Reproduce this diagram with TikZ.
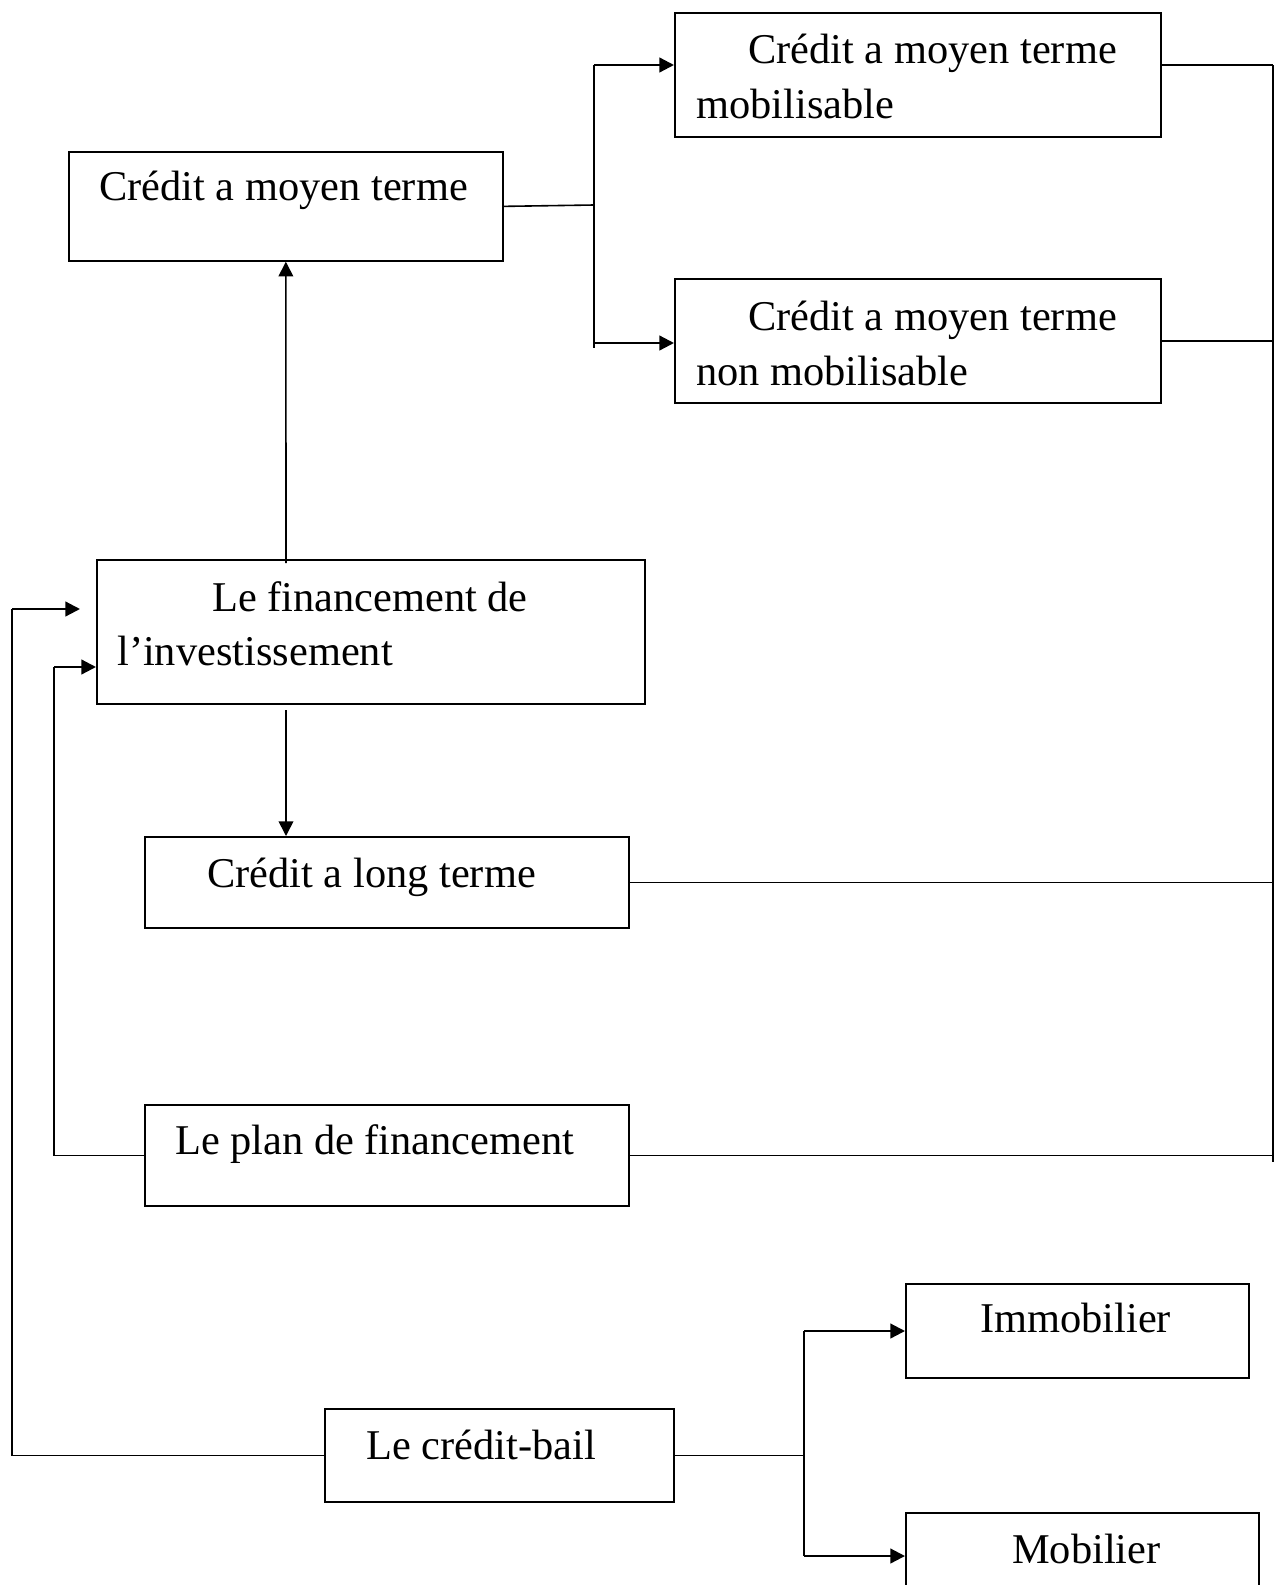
\documentclass[tikz,border=0pt]{standalone}
\usepackage{fontspec}
\setmainfont{Liberation Serif}
\usetikzlibrary{arrows.meta}
\begin{document}
\begin{tikzpicture}[x=0.75pt,y=-0.75pt,
  box/.style={draw, line width=1.3pt, inner sep=0pt, anchor=north west},
  lbl/.style={anchor=base west, inner sep=0pt, font=\fontsize{31.8}{38}\selectfont},
  ln/.style={line width=1.2pt},
  thk/.style={line width=1.7pt},
  tip/.style={-{Triangle[length=11pt,width=11pt]}},
]
\clip (0,0) rectangle (1276,1585);
% boxes
\node[box, minimum width=325.5pt, minimum height=81.75pt] (cmt) at (68,151) {};
\node[box, minimum width=364.5pt, minimum height=93pt] (mob) at (674,12) {};
\node[box, minimum width=364.5pt, minimum height=93pt] (nonmob) at (674,278) {};
\node[box, minimum width=411pt, minimum height=108pt] (fin) at (96,559) {};
\node[box, minimum width=363pt, minimum height=68.25pt] (clt) at (144,836) {};
\node[box, minimum width=363pt, minimum height=75.75pt] (plan) at (144,1104) {};
\node[box, minimum width=261.75pt, minimum height=69.75pt] (bail) at (324,1408) {};
\node[box, minimum width=257.25pt, minimum height=70.5pt] (immo) at (905,1283) {};
\node[box, minimum width=264.75pt, minimum height=81pt] (mobi) at (905,1512) {};
% texts
\node[lbl] (t1) at (99,200) {Crédit a moyen terme};
\node[lbl] (t2) at (748,63) {Crédit a moyen terme};
\node[lbl] (t3) at (696,118) {mobilisable};
\node[lbl] (t4) at (748,330) {Crédit a moyen terme};
\node[lbl] (t5) at (696,385) {non mobilisable};
\node[lbl] (t6) at (212,611) {Le financement de};
\node[lbl] (t7) at (117,665) {l’investissement};
\node[lbl] (t8) at (207,887) {Crédit a long terme};
\node[lbl] (t9) at (175,1154) {Le plan de financement};
\node[lbl] (t10) at (366,1459) {Le crédit-bail};
\node[lbl] (t11) at (980,1332) {Immobilier};
\node[lbl] (t12) at (1012,1563) {Mobilier};
% coordinates
\coordinate (j1) at (594,205);
\coordinate (jt) at (594,65);
\coordinate (jn) at (594,343);
\coordinate (jb) at (594,348);
\coordinate (rt) at (1273,65);
\coordinate (rb) at (1273,1162);
\coordinate (fu) at (286,563);
\coordinate (fd) at (286,710);
\coordinate (c2) at (54,667);
\coordinate (c3) at (12,609);
\coordinate (c3t) at (80,609);
\coordinate (j3) at (804,1455);
\coordinate (j3t) at (804,1331);
\coordinate (j3b) at (804,1556);
% upper branch
\draw[ln] (cmt.east) -- (j1);
\draw[thk] (jt) -- (jb);
\draw[thk,tip] (jt) -- (jt -| mob.west);
\draw[thk,tip] (jn) -- (jn -| nonmob.west);
% right bus
\draw[ln] (rt) -- (rb);
\draw[ln] (mob.east |- rt) -- (rt);
\draw[ln] (nonmob.east) -- (nonmob.east -| rt);
\draw[ln] (clt.east) -- (clt.east -| rt);
\draw[ln] (plan.east) -- (plan.east -| rt);
% vertical arrows
\draw[ln,tip] (fu) -- (cmt.south);
\draw[ln,tip] (fd) -- (fd |- clt.north);
% left returns
\draw[ln] (plan.west) -| (c2);
\draw[thk,tip] (c2) -- (c2 -| fin.west);
\draw[ln] (bail.west) -| (c3);
\draw[thk,tip] (c3) -- (c3t);
% credit-bail branch
\draw[ln] (bail.east) -- (bail.east -| j3);
\draw[thk] (j3t) -- (j3b);
\draw[thk,tip] (j3t) -- (j3t -| immo.west);
\draw[thk,tip] (j3b) -- (j3b -| mobi.west);
\end{tikzpicture}
\end{document}
